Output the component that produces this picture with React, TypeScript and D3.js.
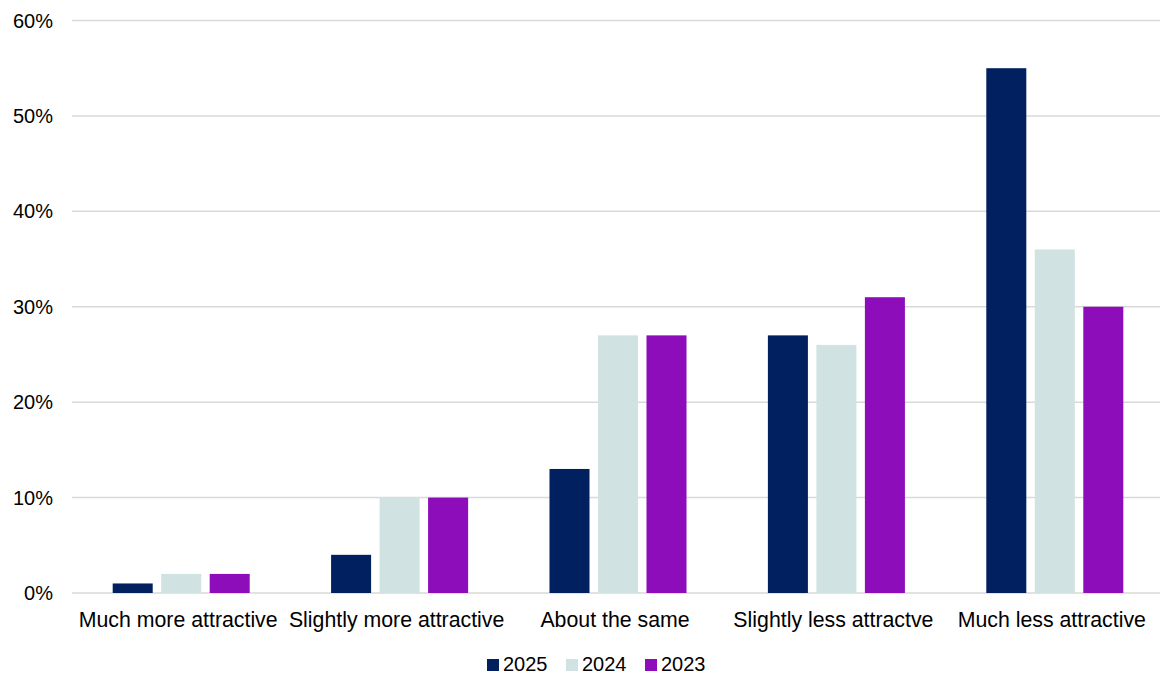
import React from "react";
import * as d3 from "d3";

const categories = [
  "Much more attractive",
  "Slightly more attractive",
  "About the same",
  "Slightly less attractve",
  "Much less attractive",
];
const seriesNames = ["2025", "2024", "2023"];
const values2025 = [1, 4, 13, 27, 55];
const values2024 = [2, 10, 27, 26, 36];
const values2023 = [2, 10, 27, 31, 30];
const yTicks = [0, 10, 20, 30, 40, 50, 60];
const colors = ["#002060", "#D0E2E2", "#8C0DB9"];

const W = 1160;
const H = 675;

export default function App() {
  const series = [values2025, values2024, values2023];
  const x0 = d3.scaleBand<string>().domain(categories).range([72, 1164]).paddingInner(0).paddingOuter(0);
  const x1 = d3
    .scaleBand<string>()
    .domain(seriesNames)
    .range([0, x0.bandwidth()])
    .paddingInner(0.175)
    .paddingOuter(0.839);
  const y = d3.scaleLinear().domain([0, 60]).range([593, 20.5]);
  const font = "'Liberation Sans', Arial, sans-serif";

  const legendX = [487, 566, 645];

  return (
    <svg
      width={W}
      height={H}
      style={{ position: "absolute", left: 0, top: 0, background: "#fff" }}
      fontFamily={font}
    >
      {yTicks.map((t) => (
        <g key={t}>
          <line x1={72} x2={1160} y1={y(t)} y2={y(t)} stroke="#D9D9D9" strokeWidth={1.5} />
          <text x={53} y={y(t) + 7} textAnchor="end" fontSize={20} fill="#000">
            {t}%
          </text>
        </g>
      ))}
      {categories.map((c, i) => (
        <g key={c} transform={`translate(${x0(c)},0)`}>
          {seriesNames.map((s, j) => (
            <rect
              key={s}
              x={x1(s)}
              y={y(series[j][i])}
              width={x1.bandwidth()}
              height={y(0) - y(series[j][i])}
              fill={colors[j]}
            />
          ))}
          <text x={x0.bandwidth() / 2 - 3} y={627} textAnchor="middle" fontSize={21.3} fill="#000">
            {c}
          </text>
        </g>
      ))}
      {seriesNames.map((s, j) => (
        <g key={s}>
          <rect x={legendX[j]} y={659} width={12} height={12} fill={colors[j]} />
          <text x={legendX[j] + 16} y={671} fontSize={20} fill="#000">
            {s}
          </text>
        </g>
      ))}
    </svg>
  );
}
